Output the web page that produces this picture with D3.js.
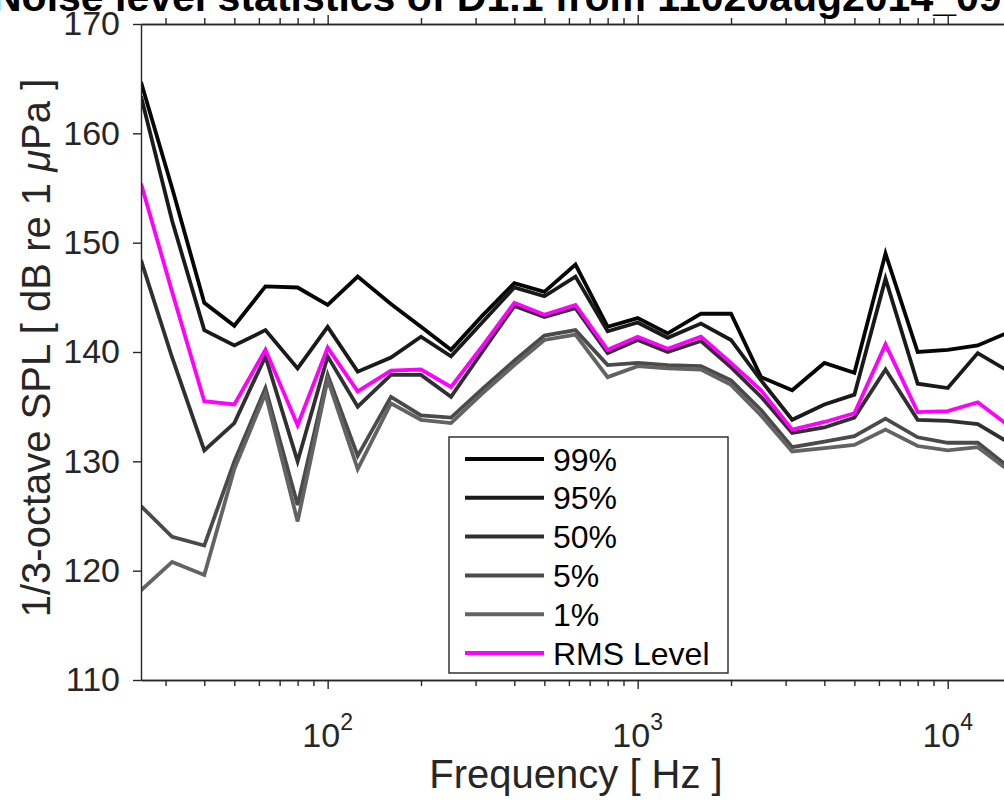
<!DOCTYPE html>
<html>
<head>
<meta charset="utf-8">
<script src="https://cdn.jsdelivr.net/npm/d3@7"></script>
<style>
  body { margin: 0; background: #fff; }
  svg { display: block; }
  text { font-family: "Liberation Sans", Arial, Helvetica, sans-serif; fill: #262626; }
</style>
</head>
<body>
<div id="chart"></div>
<script>
// 1/3-octave band centre frequencies (Hz)
const freqs = [25, 31.5, 40, 50, 63, 80, 100, 125, 160, 200, 250, 315, 400, 500, 630, 800,
  1000, 1250, 1600, 2000, 2500, 3150, 4000, 5000, 6300, 8000, 10000, 12500, 16000];

// percentile levels, dB re 1 uPa
const p99 = [164.7, 155.0, 144.5, 142.4, 146.0, 145.9, 144.3, 146.9, 144.4, 142.3, 140.2, 143.3, 146.3, 145.5, 148.0, 142.3,
  143.1, 141.7, 143.5, 143.5, 137.7, 136.5, 139.0, 138.1, 149.0, 140.0, 140.2, 140.6, 141.9];
const p95 = [163.4, 152.0, 142.0, 140.6, 142.0, 138.5, 142.3, 138.2, 139.5, 141.4, 139.6, 142.7, 145.9, 145.1, 146.9, 141.9,
  142.7, 141.3, 142.6, 141.1, 137.4, 133.8, 135.2, 136.1, 146.7, 137.1, 136.7, 139.9, 138.1];
const p50 = [148.4, 139.5, 131.0, 133.5, 139.6, 130.0, 139.6, 135.0, 137.9, 137.9, 135.9, 140.0, 144.2, 143.2, 144.0, 139.9,
  141.1, 140.0, 141.0, 138.6, 135.9, 132.6, 133.1, 134.0, 138.4, 133.8, 133.7, 133.4, 131.6];
const p5 = [125.9, 123.1, 122.3, 130.0, 136.7, 126.0, 137.9, 130.5, 135.9, 134.2, 134.0, 136.6, 139.2, 141.5, 142.0, 138.8,
  139.0, 138.8, 138.7, 137.4, 134.7, 131.3, 131.8, 132.3, 133.9, 132.2, 131.7, 131.7, 129.3];
const p1 = [118.2, 120.8, 119.6, 129.3, 136.2, 124.5, 137.5, 129.3, 135.3, 133.8, 133.5, 136.2, 138.8, 141.1, 141.6, 137.7,
  138.7, 138.5, 138.4, 137.0, 134.2, 130.9, 131.2, 131.5, 132.9, 131.4, 131.0, 131.3, 129.0];
const rms = [155.4, 145.5, 135.5, 135.2, 140.2, 133.3, 140.4, 136.4, 138.3, 138.4, 136.8, 140.5, 144.5, 143.4, 144.3, 140.2,
  141.4, 140.3, 141.4, 139.0, 136.5, 132.9, 133.6, 134.4, 140.7, 134.5, 134.6, 135.4, 133.1];

const seriesNames = ["99%", "95%", "50%", "5%", "1%", "RMS Level"];
const seriesValues = [p99, p95, p50, p5, p1, rms];
const yTicks = [110, 120, 130, 140, 150, 160, 170];
const xMajor = [100, 1000, 10000];

const titleText = "Noise level statistics of D1.1 from 11020aug2014_09";

const width = 1004, height = 804;
const colors = ["#050505", "#1a1a1a", "#303030", "#4a4a4a", "#636363", "#ff00ff"];

const x = d3.scaleLog().domain([25, 16000]).range([141, 1011]);
const y = d3.scaleLinear().domain([110, 170]).range([680, 24]);

// minor log ticks 2..9 in every decade
const xMinor = [];
[10, 100, 1000, 10000].forEach(dec => {
  for (let k = 2; k <= 9; k++) {
    const v = dec * k;
    if (v >= 25 && v <= 16000) xMinor.push(v);
  }
});

const svg = d3.select("#chart").append("svg")
  .attr("width", width)
  .attr("height", height);

svg.append("defs").append("clipPath").attr("id", "plotclip")
  .append("rect")
  .attr("x", 141).attr("y", 24)
  .attr("width", 870).attr("height", 656);

// title (cut off at top of frame, as in the source image)
svg.append("text")
  .attr("x", -8)
  .attr("y", 11)
  .attr("font-size", 41)
  .attr("font-weight", "bold")
  .style("fill", "#000")
  .text(titleText);

// data lines
const line = d3.line()
  .x((d, i) => x(freqs[i]))
  .y(d => y(d));

svg.append("g")
  .attr("clip-path", "url(#plotclip)")
  .selectAll("path")
  .data(seriesValues)
  .join("path")
  .attr("fill", "none")
  .attr("stroke", (d, i) => colors[i])
  .attr("stroke-width", 3.8)
  .attr("stroke-linejoin", "miter")
  .attr("d", line);

// axes
const styleAxis = g => {
  g.selectAll(".domain").attr("stroke", "#262626").attr("stroke-width", 1.4);
  g.selectAll(".tick line").attr("stroke", "#262626").attr("stroke-width", 1.4);
};

svg.append("g")
  .attr("transform", "translate(0,680)")
  .call(d3.axisBottom(x).tickValues(xMajor).tickSize(9).tickSizeOuter(0).tickFormat(""))
  .call(styleAxis);
svg.append("g")
  .attr("transform", "translate(0,680)")
  .call(d3.axisBottom(x).tickValues(xMinor).tickSize(6).tickSizeOuter(0).tickFormat(""))
  .call(styleAxis);
svg.append("g")
  .attr("transform", "translate(0,24)")
  .call(d3.axisTop(x).tickValues(xMajor).tickSize(9).tickSizeOuter(0).tickFormat(""))
  .call(styleAxis);
svg.append("g")
  .attr("transform", "translate(0,24)")
  .call(d3.axisTop(x).tickValues(xMinor).tickSize(6).tickSizeOuter(0).tickFormat(""))
  .call(styleAxis);

const gy = svg.append("g")
  .attr("transform", "translate(141,0)")
  .call(d3.axisLeft(y).tickValues(yTicks).tickSize(8).tickSizeOuter(0).tickPadding(13))
  .call(styleAxis);
gy.selectAll("text")
  .attr("font-size", 34)
  .attr("font-family", null)
  .style("fill", "#262626");

// x tick labels as 10^n
svg.append("g")
  .selectAll("text")
  .data(xMajor)
  .join("text")
  .attr("x", d => x(d))
  .attr("y", 747)
  .attr("text-anchor", "middle")
  .attr("font-size", 34)
  .each(function (d) {
    const t = d3.select(this);
    t.append("tspan").text("10");
    t.append("tspan").attr("dy", -17).attr("font-size", 23).text(Math.round(Math.log10(d)));
  });

// axis labels
svg.append("text")
  .attr("x", 576)
  .attr("y", 788)
  .attr("text-anchor", "middle")
  .attr("font-size", 40)
  .text("Frequency [ Hz ]");

const yl = svg.append("text")
  .attr("transform", "translate(50,348) rotate(-90)")
  .attr("text-anchor", "middle")
  .attr("font-size", 40);
yl.append("tspan").text("1/3-octave SPL [ dB re 1 ");
yl.append("tspan").attr("font-style", "italic").text("\u03bc");
yl.append("tspan").text("Pa ]");

// legend
const legend = svg.append("g");
legend.append("rect")
  .attr("x", 449).attr("y", 437)
  .attr("width", 279).attr("height", 236)
  .attr("fill", "#fff")
  .attr("stroke", "#262626")
  .attr("stroke-width", 1.4);

const legItem = legend.selectAll("g.item")
  .data(seriesNames)
  .join("g")
  .attr("class", "item")
  .attr("transform", (d, i) => `translate(0,${459 + i * 38.8})`);
legItem.append("line")
  .attr("x1", 465).attr("x2", 544)
  .attr("stroke", (d, i) => colors[i])
  .attr("stroke-width", 4);
legItem.append("text")
  .attr("x", 553)
  .attr("dy", "0.36em")
  .attr("font-size", 32)
  .style("fill", "#000")
  .text(d => d);
</script>
</body>
</html>
